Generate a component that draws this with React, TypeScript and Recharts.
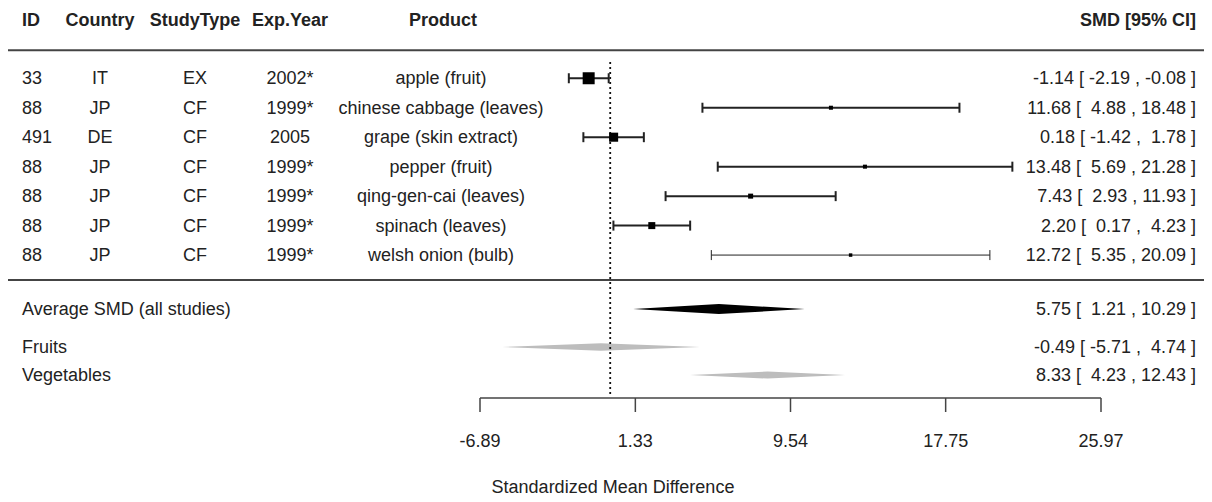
import {
  ComposedChart,
  XAxis,
  YAxis,
  Scatter,
  ErrorBar,
  Area,
  ReferenceLine,
  Customized,
} from "recharts";

// study table
const ids = ["33", "88", "491", "88", "88", "88", "88"];
const countries = ["IT", "JP", "DE", "JP", "JP", "JP", "JP"];
const studyTypes = ["EX", "CF", "CF", "CF", "CF", "CF", "CF"];
const expYears = ["2002*", "1999*", "2005", "1999*", "1999*", "1999*", "1999*"];
const products = [
  "apple (fruit)",
  "chinese cabbage (leaves)",
  "grape (skin extract)",
  "pepper (fruit)",
  "qing-gen-cai (leaves)",
  "spinach (leaves)",
  "welsh onion (bulb)",
];
const smd = [-1.14, 11.68, 0.18, 13.48, 7.43, 2.2, 12.72];
const ciLow = [-2.19, 4.88, -1.42, 5.69, 2.93, 0.17, 5.35];
const ciHigh = [-0.08, 18.48, 1.78, 21.28, 11.93, 4.23, 20.09];
const weights = [42, 4.7, 24, 4.7, 7.3, 14.3, 3.5];

// pooled estimates
const summaryLabels = ["Average SMD (all studies)", "Fruits", "Vegetables"];
const summaryEst = [5.75, -0.49, 8.33];
const summaryLow = [1.21, -5.71, 4.23];
const summaryHigh = [10.29, 4.74, 12.43];

const xTicks = [-6.89, 1.33, 9.54, 17.75, 25.97];

const W = 1196;
const H = 494;
const FONT = '"Liberation Sans", Arial, sans-serif';
const INK = "#222";
const RULE = "#444";
const FS = 18;

// vertical layout in row units (row 1 = first study)
const Y_DOMAIN: [number, number] = [-1.35, 11.85];
const HEADER_ROW = -0.98;
const RULE_ROWS = [0.05, 7.85];
const SUMMARY_ROWS = [8.83, 10.12, 11.07];
const DIAMOND_H = [0.17, 0.13, 0.12];
const DIAMOND_FILL = ["#000", "#bdbdbd", "#bdbdbd"];
const THIN = 6; // welsh onion drawn with a thin line

const pad5 = (v: number) => v.toFixed(2).padStart(5, " ");
const ciText = (e: number, l: number, h: number) =>
  `${e.toFixed(2)} [ ${pad5(l)} , ${pad5(h)} ]`;

const studies = smd.map((v, i) => ({
  x: v,
  row: i + 1,
  err: [v - ciLow[i], ciHigh[i] - v],
  w: weights[i],
}));

const diamonds = summaryEst.map((e, i) => {
  const r = SUMMARY_ROWS[i];
  const h = DIAMOND_H[i];
  return [
    { x: summaryLow[i], band: [r, r] },
    { x: e, band: [r - h, r + h] },
    { x: summaryHigh[i], band: [r, r] },
  ];
});

const yTicks = [
  HEADER_ROW,
  ...RULE_ROWS,
  ...studies.map((s) => s.row),
  ...SUMMARY_ROWS,
];

const txt = (
  x: number,
  y: number,
  s: string,
  anchor: "start" | "middle" | "end",
  bold = false
) => (
  <text
    x={x}
    y={y}
    textAnchor={anchor}
    dominantBaseline="central"
    fontSize={FS}
    fontWeight={bold ? 700 : 400}
    fill={INK}
    style={{ whiteSpace: "pre" }}
  >
    {s}
  </text>
);

function RowTick(props: any) {
  const { y, payload } = props;
  const r = payload.value;
  if (r === HEADER_ROW) {
    return (
      <g>
        {txt(14, y, "ID", "start", true)}
        {txt(92, y, "Country", "middle", true)}
        {txt(187, y, "StudyType", "middle", true)}
        {txt(282, y, "Exp.Year", "middle", true)}
        {txt(435, y, "Product", "middle", true)}
        {txt(1188, y, "SMD [95% CI]", "end", true)}
      </g>
    );
  }
  if (RULE_ROWS.includes(r)) {
    return <line x1={0} x2={W} y1={y} y2={y} stroke={RULE} strokeWidth={2} />;
  }
  const si = SUMMARY_ROWS.indexOf(r);
  if (si >= 0) {
    return (
      <g>
        {txt(14, y, summaryLabels[si], "start")}
        {txt(1188, y, ciText(summaryEst[si], summaryLow[si], summaryHigh[si]), "end")}
      </g>
    );
  }
  const i = r - 1;
  if (i < 0 || i >= ids.length) return <g />;
  return (
    <g>
      {txt(14, y, ids[i], "start")}
      {txt(92, y, countries[i], "middle")}
      {txt(187, y, studyTypes[i], "middle")}
      {txt(282, y, expYears[i], "middle")}
      {txt(433, y, products[i], "middle")}
      {txt(1188, y, ciText(smd[i], ciLow[i], ciHigh[i]), "end")}
    </g>
  );
}

function Box(props: any) {
  const { cx, cy, payload } = props;
  const s = 1.85 * Math.sqrt(payload.w);
  return <rect x={cx - s / 2} y={cy - s / 2} width={s} height={s} fill="#000" />;
}

const AxisTitle = () => (
  <text x={605} y={485} textAnchor="middle" fontSize={FS} fill={INK}>
    Standardized Mean Difference
  </text>
);

export default function App() {
  return (
    <div style={{ fontFamily: FONT, width: W, height: H }}>
      <ComposedChart
        width={W}
        height={H}
        margin={{ top: 1, right: 103, bottom: 0, left: 0 }}
      >
        <XAxis
          type="number"
          dataKey="x"
          domain={[xTicks[0], xTicks[xTicks.length - 1]]}
          ticks={xTicks}
          interval={0}
          allowDataOverflow
          tickFormatter={(v: number) => v.toFixed(2)}
          height={104}
          tickSize={14}
          tickMargin={22}
          stroke={RULE}
          strokeWidth={1.5}
          tick={{ fill: INK, fontSize: FS }}
        />
        <YAxis
          type="number"
          domain={Y_DOMAIN}
          reversed
          ticks={yTicks}
          interval={0}
          allowDataOverflow
          width={472}
          axisLine={false}
          tickLine={false}
          tick={(p: any) => <RowTick {...p} />}
        />
        <ReferenceLine
          segment={[
            { x: 0, y: 0.45 },
            { x: 0, y: 11.75 },
          ]}
          stroke="#111"
          strokeWidth={1.8}
          strokeDasharray="2 3"
        />
        {diamonds.map((d, i) => (
          <Area
            key={i}
            data={d}
            dataKey="band"
            type="linear"
            stroke="none"
            fill={DIAMOND_FILL[i]}
            fillOpacity={1}
            dot={false}
            activeDot={false}
            isAnimationActive={false}
          />
        ))}
        <Scatter
          data={studies.filter((_, i) => i !== THIN)}
          dataKey="row"
          shape={<Box />}
          isAnimationActive={false}
        >
          <ErrorBar dataKey="err" direction="x" width={5} stroke="#222" strokeWidth={2} />
        </Scatter>
        <Scatter
          data={studies.filter((_, i) => i === THIN)}
          dataKey="row"
          shape={<Box />}
          isAnimationActive={false}
        >
          <ErrorBar dataKey="err" direction="x" width={5} stroke="#222" strokeWidth={1} />
        </Scatter>
        <Customized component={AxisTitle} />
      </ComposedChart>
    </div>
  );
}
